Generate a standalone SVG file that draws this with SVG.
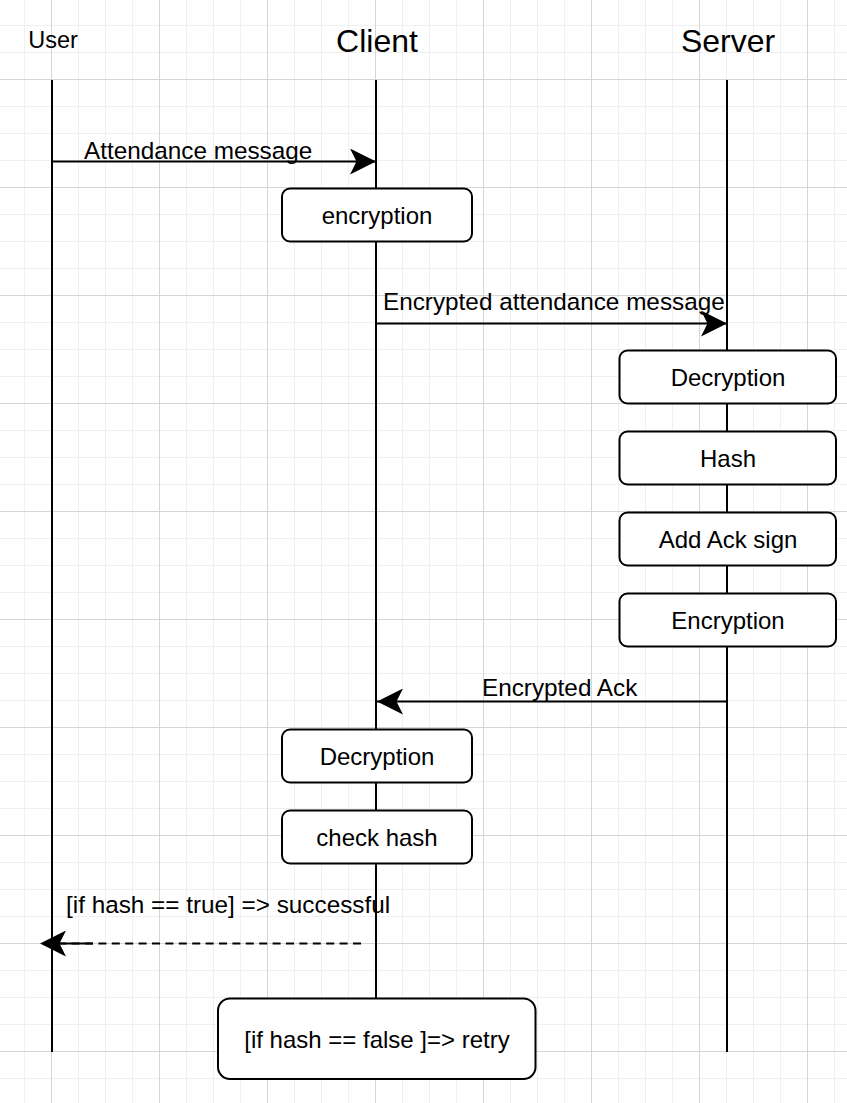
<svg xmlns="http://www.w3.org/2000/svg" width="847" height="1103" viewBox="0 0 847 1103">
  <style>
    .lbl { font-family: "Liberation Sans", Arial, sans-serif; font-size: 24.3px; fill: #000; }
    .title { font-family: "Liberation Sans", Arial, sans-serif; font-size: 32px; fill: #000; text-anchor: middle; }
    .box { fill: #fff; stroke: #000; stroke-width: 2; }
    .boxtxt { font-family: "Liberation Sans", Arial, sans-serif; font-size: 24px; fill: #000; text-anchor: middle; }
    .life { stroke: #000; stroke-width: 2; fill: none; }
    .msg { stroke: #000; stroke-width: 2; fill: none; }
  </style>
  <defs>
    <pattern id="gridMinor" width="27" height="27" patternUnits="userSpaceOnUse" x="24" y="25">
      <path d="M0 0.5 H27 M0.5 0 V27" stroke="#f0f0f0" stroke-width="1" fill="none"/>
    </pattern>
    <pattern id="gridMajor" width="108" height="108" patternUnits="userSpaceOnUse" x="51" y="79">
      <path d="M0 0.5 H108 M0.5 0 V108" stroke="#d6d6d6" stroke-width="1" fill="none"/>
    </pattern>
    <marker id="arrow" markerUnits="userSpaceOnUse" markerWidth="26" markerHeight="26" viewBox="0 0 24 24" refX="24" refY="12" orient="auto">
      <path d="M24 12 L0 0 L6 12 L0 24 Z" fill="#000" stroke="none"/>
    </marker>
  </defs>

  <rect width="847" height="1103" fill="#fff"/>
  <rect width="847" height="1103" fill="url(#gridMinor)"/>
  <rect width="847" height="1103" fill="url(#gridMajor)"/>

  <g id="lifelines">
    <g id="user">
      <text class="lbl" x="53" y="48" text-anchor="middle" style="font-size:23.5px">User</text>
      <line class="life" x1="52" y1="80" x2="52" y2="1052"/>
    </g>
    <g id="client">
      <text class="title" x="377" y="52">Client</text>
      <line class="life" x1="376" y1="80" x2="376" y2="998"/>
    </g>
    <g id="server">
      <text class="title" x="728" y="52">Server</text>
      <line class="life" x1="727" y1="80" x2="727" y2="1052"/>
    </g>
  </g>

  <g id="connectors">
    <g id="msg-attendance">
      <line class="msg" x1="52" y1="161.5" x2="376" y2="161.5" marker-end="url(#arrow)"/>
      <text class="lbl" x="84" y="159">Attendance message</text>
    </g>
    <g id="msg-encrypted">
      <line class="msg" x1="376" y1="323.5" x2="727" y2="323.5" marker-end="url(#arrow)"/>
      <text class="lbl" x="383" y="310">Encrypted attendance message</text>
    </g>
    <g id="msg-ack">
      <line class="msg" x1="727" y1="701.5" x2="377" y2="701.5" marker-end="url(#arrow)"/>
      <text class="lbl" x="482" y="696">Encrypted Ack</text>
    </g>
    <g id="msg-success">
      <line class="msg" x1="60" y1="943.5" x2="93" y2="943.5"/>
      <line class="msg" x1="361" y1="943.5" x2="40" y2="943.5" stroke-dasharray="8 5.4" marker-end="url(#arrow)"/>
      <text class="lbl" x="66" y="913">[if hash == true] =&gt; successful</text>
    </g>
  </g>

  <g id="node-encryption-client">
    <rect class="box" x="282" y="188.5" width="190" height="53" rx="8"/>
    <text class="boxtxt" x="377" y="224">encryption</text>
  </g>
  <g id="node-decryption-server">
    <rect class="box" x="619.5" y="350.5" width="216.5" height="53" rx="8"/>
    <text class="boxtxt" x="728" y="386">Decryption</text>
  </g>
  <g id="node-hash">
    <rect class="box" x="619.5" y="431.5" width="216.5" height="53" rx="8"/>
    <text class="boxtxt" x="728" y="467">Hash</text>
  </g>
  <g id="node-addack">
    <rect class="box" x="619.5" y="512.5" width="216.5" height="53" rx="8"/>
    <text class="boxtxt" x="728" y="548">Add Ack sign</text>
  </g>
  <g id="node-encryption-server">
    <rect class="box" x="619.5" y="593.5" width="216.5" height="53" rx="8"/>
    <text class="boxtxt" x="728" y="629">Encryption</text>
  </g>
  <g id="node-decryption-client">
    <rect class="box" x="282" y="729.5" width="190" height="53" rx="8"/>
    <text class="boxtxt" x="377" y="765">Decryption</text>
  </g>
  <g id="node-checkhash">
    <rect class="box" x="282" y="810.5" width="190" height="53" rx="8"/>
    <text class="boxtxt" x="377" y="846">check hash</text>
  </g>
  <g id="node-retry">
    <rect class="box" x="218" y="998.5" width="317.5" height="80.5" rx="12"/>
    <text class="boxtxt" x="377" y="1048">[if hash == false ]=&gt; retry</text>
  </g>
</svg>
